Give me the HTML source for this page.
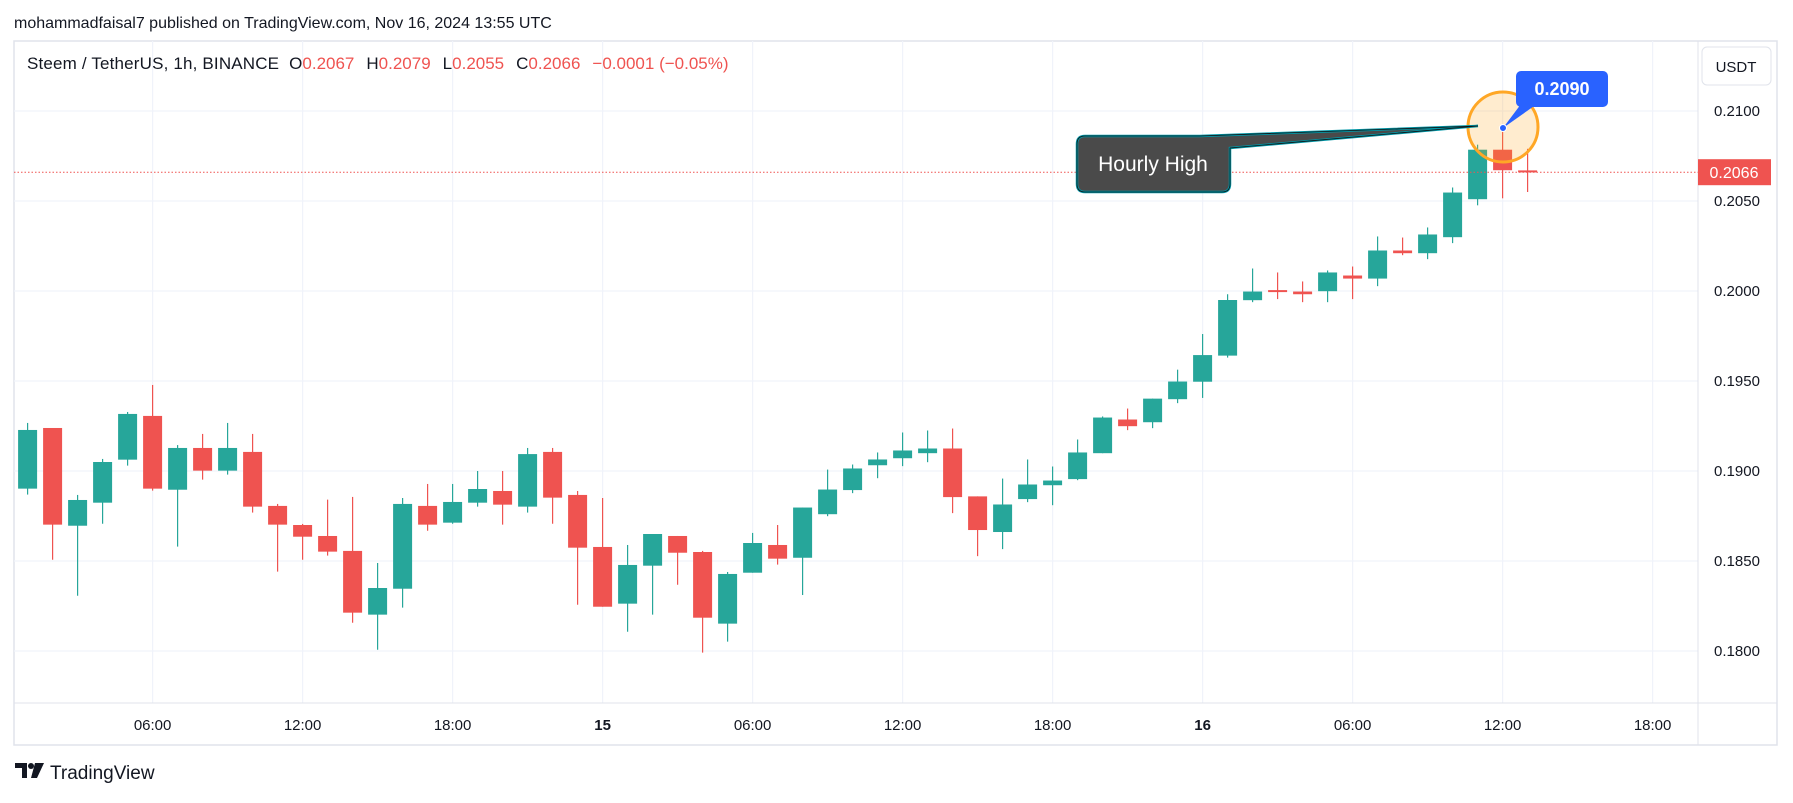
<!DOCTYPE html>
<html><head><meta charset="utf-8">
<style>
html,body{margin:0;padding:0;background:#fff;}
body{width:1793px;height:798px;overflow:hidden;font-family:"Liberation Sans",sans-serif;}
svg text{font-family:"Liberation Sans",sans-serif;}
</style></head>
<body>
<svg id="chart" width="1793" height="798" xmlns="http://www.w3.org/2000/svg">
<text x="14" y="28" font-size="16" fill="#131722">mohammadfaisal7 published on TradingView.com, Nov 16, 2024 13:55 UTC</text>
<rect x="14" y="41" width="1763" height="704" fill="none" stroke="#e0e3eb" stroke-width="1.5"/>
<g id="grid"></g>
<line x1="1698" y1="41" x2="1698" y2="745" stroke="#e0e3eb"/>
<line x1="14" y1="703" x2="1777" y2="703" stroke="#e0e3eb"/>
<g id="candles"></g>
<g id="yaxis"></g>
<g id="xaxis"></g>
<line id="priceline" x1="14" x2="1698" stroke="#ef5350" stroke-dasharray="1.5 2" stroke-width="1"/>
<g>
<rect id="plabelbox" x="1698" width="73" height="26" fill="#ef5350"/>
<text id="plabel" x="1734" font-size="16" fill="#fff" text-anchor="middle">0.2066</text>
</g>
<g>
<rect x="1702" y="47" width="69" height="38" rx="5" fill="#fff" stroke="#e0e3eb"/>
<text x="1736" y="72" font-size="15" fill="#131722" text-anchor="middle">USDT</text>
</g>
<g font-size="17">
<text x="27" y="69" fill="#131722"><tspan textLength="252">Steem / TetherUS, 1h, BINANCE</tspan><tspan dx="10">O</tspan><tspan fill="#ef5350">0.2067</tspan><tspan dx="12">H</tspan><tspan fill="#ef5350">0.2079</tspan><tspan dx="12">L</tspan><tspan fill="#ef5350">0.2055</tspan><tspan dx="12">C</tspan><tspan fill="#ef5350">0.2066</tspan><tspan dx="12" fill="#ef5350">−0.0001 (−0.05%)</tspan></text>
</g>
<g>
<circle cx="1503" cy="127" r="35" fill="#ffa726" fill-opacity="0.22" stroke="#ffa726" stroke-width="3"/>
</g>
<g>
<path d="M1085,136 L1200,136 L1478,126 L1230,148 L1230,184 Q1230,192 1222,192 L1085,192 Q1077,192 1077,184 L1077,144 Q1077,136 1085,136 Z" fill="#4a4a4a" stroke="#0097a7" stroke-width="2.5"/>
<path d="M1085,136 L1200,136 L1478,126 L1230,148 L1230,184 Q1230,192 1222,192 L1085,192 Q1077,192 1077,184 L1077,144 Q1077,136 1085,136 Z" fill="none" stroke="#111" stroke-width="0.8"/>
<text x="1153" y="171" font-size="21" fill="#fff" text-anchor="middle">Hourly High</text>
</g>
<g>
<path d="M1521,104 L1537,104 L1503,128 Z" fill="#2962ff"/>
<rect x="1516" y="71" width="92" height="36" rx="5" fill="#2962ff"/>
<text x="1562" y="95" font-size="18" font-weight="bold" fill="#fff" text-anchor="middle">0.2090</text>
<circle cx="1503" cy="128" r="3.5" fill="#2962ff" stroke="#fff" stroke-width="1"/>
</g>
<g>
<path d="M15,763 L27,763 L27,778 L22,778 L22,768 L15,768 Z" fill="#131722"/>
<circle cx="31" cy="766" r="3" fill="#131722"/>
<path d="M35,763 L44,763 L37,778 L31,778 Z" fill="#131722"/>
<text x="50" y="779" font-size="19" fill="#131722">TradingView</text>
</g>
</svg>
<script>
const opens  = [0.18902,0.19239,0.18696,0.18824,0.19063,0.19306,0.18896,0.19128,0.19002,0.19106,0.18806,0.18700,0.18639,0.18556,0.18202,0.18346,0.18806,0.18713,0.18824,0.18889,0.18802,0.19106,0.18867,0.18578,0.18263,0.18474,0.18639,0.18550,0.18152,0.18435,0.18589,0.18518,0.18760,0.18894,0.19032,0.19071,0.19099,0.19125,0.18859,0.18661,0.18844,0.18921,0.18955,0.19099,0.19286,0.19271,0.19399,0.19496,0.19641,0.19949,0.20005,0.19997,0.19999,0.20086,0.20069,0.20225,0.20210,0.20299,0.20510,0.20785,0.2067];
const highs  = [0.19267,0.19239,0.18867,0.19067,0.19328,0.19478,0.19144,0.19206,0.19267,0.19206,0.18817,0.18706,0.18841,0.18856,0.18489,0.18850,0.18928,0.18928,0.19000,0.19000,0.19128,0.19128,0.18889,0.18850,0.18589,0.18650,0.18639,0.18556,0.18439,0.18656,0.18700,0.18797,0.19008,0.19036,0.19103,0.19214,0.19225,0.19236,0.18859,0.18958,0.19064,0.19025,0.19175,0.19303,0.19347,0.19402,0.19563,0.19761,0.19982,0.20125,0.20103,0.20053,0.20114,0.20136,0.20303,0.20297,0.20353,0.20575,0.20813,0.20900,0.2079];
const lows   = [0.18869,0.18507,0.18307,0.18707,0.19030,0.18891,0.18580,0.18952,0.18980,0.18769,0.18441,0.18507,0.18530,0.18157,0.18007,0.18241,0.18668,0.18707,0.18802,0.18702,0.18769,0.18707,0.18257,0.18246,0.18107,0.18202,0.18368,0.17991,0.18052,0.18435,0.18480,0.18311,0.18749,0.18877,0.18960,0.19027,0.19049,0.18766,0.18527,0.18566,0.18827,0.18810,0.18949,0.19099,0.19227,0.19238,0.19377,0.19406,0.19630,0.19938,0.19955,0.19938,0.19938,0.19955,0.20027,0.20199,0.20177,0.20266,0.20476,0.20515,0.2055];
const closes = [0.19228,0.18702,0.18839,0.19050,0.19317,0.18902,0.19128,0.19002,0.19128,0.18802,0.18702,0.18635,0.18552,0.18213,0.18350,0.18817,0.18702,0.18828,0.18900,0.18813,0.19094,0.18852,0.18574,0.18246,0.18478,0.18650,0.18546,0.18185,0.18428,0.18600,0.18513,0.18797,0.18897,0.19014,0.19064,0.19114,0.19125,0.18855,0.18672,0.18814,0.18925,0.18947,0.19103,0.19297,0.19249,0.19402,0.19497,0.19644,0.19950,0.19997,0.19994,0.19982,0.20103,0.20069,0.20225,0.20210,0.20314,0.20547,0.20785,0.20671,0.2066];
const priceTicks = [0.2100,0.2050,0.2000,0.1950,0.1900,0.1850,0.1800];
const timeTickIdx = [5,11,17,23,29,35,41,47,53,59,65];
const timeTickLabels = ["06:00","12:00","18:00","15","06:00","12:00","18:00","16","06:00","12:00","18:00"];
const lastPrice = 0.2066;

const NS="http://www.w3.org/2000/svg";
const yOf = p => 111 + (0.21 - p) * 18000;
const xOf = i => 27.6 + 25 * i;
function mk(tag, attrs, parent){const e=document.createElementNS(NS,tag);for(const k in attrs)e.setAttribute(k,attrs[k]);parent.appendChild(e);return e;}
const grid=document.getElementById('grid'), cg=document.getElementById('candles'), ya=document.getElementById('yaxis'), xa=document.getElementById('xaxis');
priceTicks.forEach(p=>{
  const gl=mk('line',{x1:14,x2:1698,y1:yOf(p),y2:yOf(p),stroke:'#f0f3fa','stroke-width':1.2},grid);
  
  
  const t=mk('text',{x:1737,y:yOf(p)+5,'font-size':15,fill:'#131722','text-anchor':'middle'},ya);
  t.textContent=p.toFixed(4);
  
  
});
timeTickIdx.forEach((i,k)=>{
  const gl=mk('line',{x1:xOf(i),x2:xOf(i),y1:41,y2:703,stroke:'#f0f3fa','stroke-width':1.2},grid);
  
  
  const lab=timeTickLabels[k];
  const t=mk('text',{x:xOf(i),y:730,'font-size':15,fill:'#131722','text-anchor':'middle','font-weight':lab.length<3?'bold':'normal'},xa);
  t.textContent=lab;
  
  
});
opens.forEach((o,i)=>{
  const c=closes[i], up=c>=o, col=up?'#26a69a':'#ef5350', x=xOf(i);
  const g=mk('g',{},cg);
  
  
  mk('line',{x1:x,x2:x,y1:yOf(highs[i]),y2:yOf(lows[i]),stroke:col,'stroke-width':1.2},g);
  const top=yOf(Math.max(o,c)), bot=yOf(Math.min(o,c));
  mk('rect',{x:x-9.5,y:top,width:19,height:Math.max(2,bot-top),fill:col},g);
});
const py=yOf(lastPrice);
document.getElementById('priceline').setAttribute('y1',py);
document.getElementById('priceline').setAttribute('y2',py);
document.getElementById('plabelbox').setAttribute('y',py-13);
document.getElementById('plabel').setAttribute('y',py+6);
</script>
</body></html>
